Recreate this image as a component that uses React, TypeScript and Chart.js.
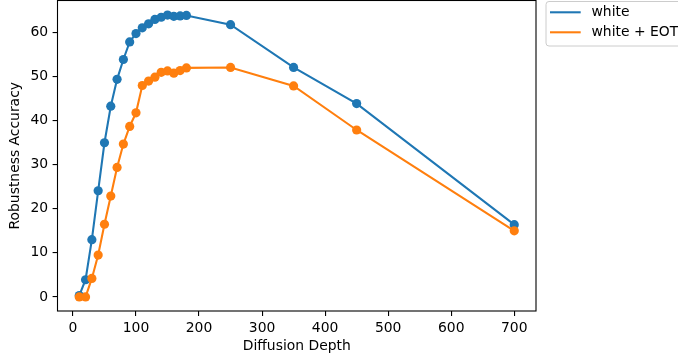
import React, { useEffect, useRef } from "react";
import { Chart, registerables } from "chart.js";

Chart.register(...registerables);

const depth = [10, 20, 30, 40, 50, 60, 70, 80, 90, 100, 110, 120, 130, 140, 150, 160, 170, 180, 250, 350, 450, 700];
const white = [0.3, 3.9, 13.0, 24.1, 35.0, 43.3, 49.4, 53.9, 57.9, 59.8, 61.1, 62.0, 63.0, 63.5, 64.0, 63.7, 63.8, 63.9, 61.8, 52.1, 43.9, 16.4];
const whiteEot = [0.0, 0.0, 4.2, 9.5, 16.5, 22.9, 29.4, 34.7, 38.7, 41.8, 48.0, 49.0, 49.9, 51.0, 51.3, 50.8, 51.4, 52.0, 52.1, 47.9, 37.9, 15.0];
const seriesLabels = ["white", "white + EOT"];
const seriesColors = ["#1f77b4", "#ff7f0e"];
const xTicks = [0, 100, 200, 300, 400, 500, 600, 700];
const yTicks = [0, 10, 20, 30, 40, 50, 60];
const xTitle = "Diffusion Depth";
const yTitle = "Robustness Accuracy";

const FONT = "DejaVu Sans";
const FS = 13.9;

const frameAndLegend = {
  id: "frameAndLegend",
  afterDatasetsDraw(chart: any) {
    const { ctx, chartArea } = chart;
    ctx.save();
    ctx.strokeStyle = "#000";
    ctx.lineWidth = 1.1;
    ctx.strokeRect(chartArea.left, chartArea.top, chartArea.right - chartArea.left, chartArea.bottom - chartArea.top);
    ctx.restore();
  },
  afterDraw(chart: any) {
    const { ctx } = chart;
    ctx.save();
    const bx = 546, by = 1.5, bw = 200, bh = 44.5, r = 3;
    ctx.beginPath();
    ctx.moveTo(bx + r, by);
    ctx.lineTo(bx + bw - r, by);
    ctx.arcTo(bx + bw, by, bx + bw, by + r, r);
    ctx.lineTo(bx + bw, by + bh - r);
    ctx.arcTo(bx + bw, by + bh, bx + bw - r, by + bh, r);
    ctx.lineTo(bx + r, by + bh);
    ctx.arcTo(bx, by + bh, bx, by + bh - r, r);
    ctx.lineTo(bx, by + r);
    ctx.arcTo(bx, by, bx + r, by, r);
    ctx.closePath();
    ctx.fillStyle = "rgba(255,255,255,0.8)";
    ctx.fill();
    ctx.strokeStyle = "#cccccc";
    ctx.lineWidth = 1;
    ctx.stroke();
    chart.data.datasets.forEach((ds: any, i: number) => {
      const y = 12.3 + i * 20;
      ctx.strokeStyle = ds.borderColor;
      ctx.lineWidth = 2.08;
      ctx.beginPath();
      ctx.moveTo(550, y);
      ctx.lineTo(580.7, y);
      ctx.stroke();
      ctx.fillStyle = "#000";
      ctx.font = `${FS}px "${FONT}"`;
      ctx.textBaseline = "middle";
      ctx.textAlign = "left";
      ctx.fillText(ds.label, 591.5, y);
    });
    ctx.restore();
  },
};

export default function App() {
  const ref = useRef<HTMLCanvasElement | null>(null);
  useEffect(() => {
    if (!ref.current) return;
    const mk = (vals: number[]) => depth.map((x, i) => ({ x, y: vals[i] }));
    const chart = new Chart(ref.current, {
      type: "line",
      data: {
        datasets: [white, whiteEot].map((vals, i) => ({
          label: seriesLabels[i],
          data: mk(vals),
          borderColor: seriesColors[i],
          backgroundColor: seriesColors[i],
          pointBackgroundColor: seriesColors[i],
          pointBorderWidth: 0,
          pointRadius: 4.6,
          borderWidth: 2.08,
          tension: 0,
          fill: false,
          clip: 10,
          order: 1 - i,
        })),
      },
      options: {
        responsive: false,
        animation: false,
        devicePixelRatio: 1,
        layout: { autoPadding: false, padding: { left: 0, right: 142, top: 0.5, bottom: 0 } },
        plugins: { legend: { display: false }, tooltip: { enabled: false } },
        scales: {
          x: {
            type: "linear",
            min: -24.5,
            max: 734.5,
            afterBuildTicks: (s: any) => { s.ticks = xTicks.map((v) => ({ value: v })); },
            afterFit: (s: any) => { s.height = 49; s.paddingLeft = 0; s.paddingRight = 0; s.paddingTop = 0; s.paddingBottom = 0; },
            grid: { display: true, drawOnChartArea: false, drawTicks: true, tickLength: 4.9, color: "#000", lineWidth: 1.1 },
            border: { display: false },
            ticks: { color: "#000", padding: 4.5, maxRotation: 0, autoSkip: false, font: { family: FONT, size: FS } },
            title: { display: true, text: xTitle, color: "#000", font: { family: FONT, size: FS }, padding: { top: 0, bottom: 5.7 } },
          },
          y: {
            type: "linear",
            min: -3.2,
            max: 67.3,
            afterBuildTicks: (s: any) => { s.ticks = yTicks.map((v) => ({ value: v })); },
            afterFit: (s: any) => { s.width = 57.5; s.paddingLeft = 0; s.paddingRight = 0; s.paddingTop = 0; s.paddingBottom = 0; },
            grid: { display: true, drawOnChartArea: false, drawTicks: true, tickLength: 4.9, color: "#000", lineWidth: 1.1 },
            border: { display: false },
            ticks: { color: "#000", padding: 4.5, autoSkip: false, font: { family: FONT, size: FS } },
            title: { display: true, text: yTitle, color: "#000", font: { family: FONT, size: FS }, padding: { top: 7.2, bottom: 0 } },
          },
        },
      },
      plugins: [frameAndLegend],
    } as any);
    return () => chart.destroy();
  }, []);
  return (
    <div style={{ position: "fixed", left: 0, top: 0, width: 678, height: 360, background: "#fff" }}>
      <canvas ref={ref} width={678} height={360} style={{ display: "block" }} />
    </div>
  );
}
